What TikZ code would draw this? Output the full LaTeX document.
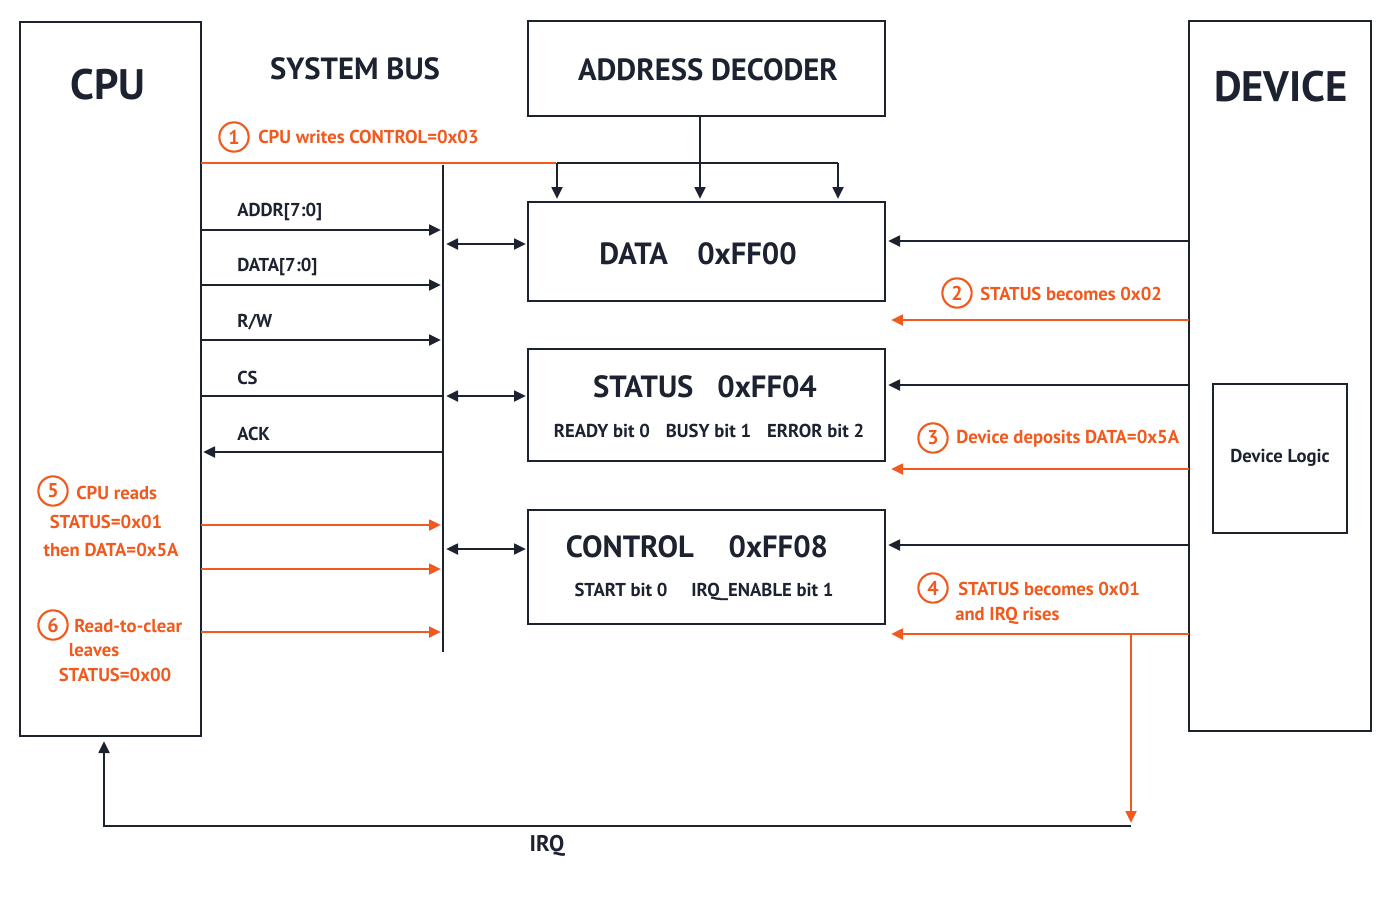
\documentclass[tikz,border=0pt]{standalone}
\usepackage{fontspec}
\setmainfont{PT Sans}
\usetikzlibrary{arrows.meta}
\definecolor{ink}{HTML}{1C2230}
\definecolor{org}{HTML}{F05A1E}
\begin{document}
\begin{tikzpicture}[x=0.75pt,y=-0.75pt,
  box/.style={draw=ink,line width=2.2pt},
  sig/.style={draw=ink,line width=2pt,-{Triangle[length=9pt,width=8pt]}},
  osig/.style={draw=org,line width=2pt,-{Triangle[length=9pt,width=8pt]}},
  bi/.style={draw=ink,line width=2pt,{Triangle[length=9pt,width=8pt]}-{Triangle[length=9pt,width=8pt]}},
  lab/.style={text=ink,font=\fontsize{14}{16}\selectfont\bfseries,inner sep=0},
  olab/.style={text=org,font=\fontsize{14}{16}\selectfont\bfseries,inner sep=0},
  title/.style={text=ink,font=\fontsize{23}{26}\selectfont\bfseries,inner sep=0},
  num/.style={circle,draw=org,line width=1.6pt,text=org,inner sep=1pt,minimum size=22pt,font=\fontsize{15}{17}\selectfont\bfseries}]
\useasboundingbox (0,0) rectangle (1400,900);
% boxes
\draw[box] (20,22) rectangle (201,736);
\node[title,font=\fontsize{32}{34}\selectfont\bfseries] (cpu) at (108,85) {CPU};
\draw[box] (1189,21) rectangle (1371,731);
\node[title,font=\fontsize{32}{34}\selectfont\bfseries] (dev) at (1281,87) {DEVICE};
\draw[box] (1213,384) rectangle (1347,533);
\node[lab] (dl) at (1280,458) {Device Logic};
\node[title] (sb) at (355,69) {SYSTEM BUS};
\draw[box] (528,21) rectangle (885,116);
\node[title] (ad) at (708,70) {ADDRESS DECODER};
\draw[box] (528,202) rectangle (885,301);
\node[title] (dt) at (698,254) {DATA\hspace{22pt}0xFF00};
\draw[box] (528,349) rectangle (885,461);
\node[title] (st) at (705,387) {STATUS\hspace{18pt}0xFF04};
\node[lab] (stb) at (709,431) {READY bit 0\hspace{12pt}BUSY bit 1\hspace{12pt}ERROR bit 2};
\draw[box] (528,510) rectangle (885,624);
\node[title] (ct) at (697,547) {CONTROL\hspace{26pt}0xFF08};
\node[lab] (ctb) at (704,592) {START bit 0\hspace{18pt}IRQ\_ENABLE bit 1};
% bus
\coordinate (b1) at (443,165); \coordinate (b2) at (443,652);
\draw[ink,line width=2pt] (b1) -- (b2);
% step 1
\coordinate (o1) at (201,163); \coordinate (o2) at (556,163);
\draw[org,line width=2pt] (o1) -- (o2);
\node[num] (n1) at (234,137) {1};
\node[olab,anchor=west] (t1) at (258,137) {CPU writes CONTROL=0x03};
% decoder
\coordinate (d0) at (700,116);
\draw[sig] (d0) -- (700,199);
\draw[ink,line width=2pt] (557,163) -- (838,163);
\draw[sig] (557,163) -- (557,199);
\draw[sig] (838,163) -- (838,199);
% cpu signals
\foreach \y/\t in {230/{ADDR[7:0]},285/{DATA[7:0]},340/{R/W}}{
  \draw[sig] (201,\y) -- (441,\y);
  \node[lab,anchor=west] at (237,\y-18) {\t};}
\draw[ink,line width=2pt] (201,396) -- (443,396);
\node[lab,anchor=west] (cs) at (237,378) {CS};
\draw[sig] (443,452) -- (203,452);
\node[lab,anchor=west] (ack) at (237,434) {ACK};
\foreach \y in {525,569,632} \draw[osig] (201,\y) -- (441,\y);
\node[num] (n5) at (53,491) {5};
\node[olab,anchor=west] at (76,493) {CPU reads};
\node[olab] at (106,522) {STATUS=0x01};
\node[olab] at (111,550) {then DATA=0x5A};
\node[num] (n6) at (53,625) {6};
\node[olab,anchor=west] at (74,626) {Read-to-clear};
\node[olab] at (94,650) {leaves};
\node[olab] at (115,675) {STATUS=0x00};
% bus to registers
\foreach \y in {244,396,549} \draw[bi] (446,\y) -- (526,\y);
% device side
\foreach \y in {241,385,545} \draw[sig] (1189,\y) -- (888,\y);
\foreach \y in {320,469,634} \draw[osig] (1189,\y) -- (891,\y);
\node[num] (n2) at (957,293) {2};
\node[olab,anchor=west] at (980,294) {STATUS becomes 0x02};
\node[num] (n3) at (933,438) {3};
\node[olab,anchor=west] at (956,439) {Device deposits DATA=0x5A};
\node[num] (n4) at (933,588) {4};
\node[olab,anchor=west] at (958,589) {STATUS becomes 0x01};
\node[olab,anchor=west] at (955,616) {and IRQ rises};
% IRQ
\coordinate (i0) at (1131,634); \coordinate (i1) at (1131,826); \coordinate (i2) at (104,826);
\draw[osig] (i0) -- (1131,823);
\draw[sig] (i1) -- (i2) -- (104,741);
\node[lab,font=\fontsize{17}{19}\selectfont\bfseries] (irq) at (547,846) {IRQ};
\end{tikzpicture}
\end{document}
